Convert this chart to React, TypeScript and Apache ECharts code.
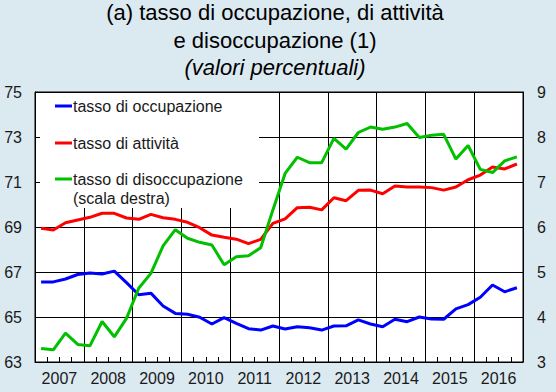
import React, { useEffect, useRef } from "react";
import * as echarts from "echarts";

const years = ["2007", "2008", "2009", "2010", "2011", "2012", "2013", "2014", "2015", "2016"];
const quarterNames = ["T1", "T2", "T3", "T4"];
const quarters: string[] = [];
years.forEach((y) => quarterNames.forEach((q) => quarters.push(y + " " + q)));

const occupazione = [
  66.56, 66.56, 66.69, 66.89, 66.96, 66.91, 67.04, 66.53,
  65.99, 66.06, 65.49, 65.16, 65.12, 64.99, 64.69, 64.97,
  64.72, 64.48, 64.42, 64.6, 64.47, 64.57, 64.52, 64.42,
  64.6, 64.61, 64.87, 64.69, 64.57, 64.9, 64.79, 65.0,
  64.91, 64.9, 65.36, 65.55, 65.88, 66.42, 66.12, 66.3,
];
const attivita = [
  68.94, 68.87, 69.19, 69.31, 69.43, 69.61, 69.61, 69.4,
  69.34, 69.56, 69.41, 69.34, 69.21, 68.97, 68.64, 68.54,
  68.46, 68.26, 68.45, 69.16, 69.36, 69.86, 69.88, 69.76,
  70.3, 70.17, 70.63, 70.64, 70.48, 70.82, 70.78, 70.78,
  70.75, 70.64, 70.78, 71.1, 71.31, 71.67, 71.58, 71.8,
];
const disoccupazione = [
  3.3, 3.27, 3.64, 3.39, 3.36, 3.9, 3.56, 3.97,
  4.64, 4.97, 5.58, 5.94, 5.75, 5.66, 5.6, 5.16,
  5.34, 5.36, 5.54, 6.38, 7.19, 7.55, 7.43, 7.43,
  7.97, 7.73, 8.1, 8.22, 8.17, 8.22, 8.3, 7.99,
  8.04, 8.06, 7.51, 7.81, 7.28, 7.21, 7.47, 7.56,
];

const seriesNames = ["tasso di occupazione", "tasso di attività", "tasso di disoccupazione"];
const seriesColors = ["#0000ff", "#ff0000", "#00c000"];
const titleLines = ["(a) tasso di occupazione, di attività", "e disoccupazione (1)", "(valori percentuali)"];
const legendNote = "(scala destra)";

const FONT = "'Liberation Sans', Arial, Helvetica, sans-serif";
const TEXT = "#1a1a1a";

export default function App() {
  const ref = useRef<HTMLDivElement>(null);
  useEffect(() => {
    if (!ref.current) return;
    const chart = echarts.init(ref.current, null, { renderer: "svg" });
    const legendY = [106, 143, 179];
    const option: any = {
      animation: false,
      backgroundColor: "#dbe9f1",
      textStyle: { fontFamily: FONT },
      grid: {
        left: 35,
        top: 92,
        width: 488,
        height: 270,
        show: true,
        backgroundColor: "#ffffff",
        borderColor: "#000",
        borderWidth: 1,
      },
      xAxis: [
        {
          type: "category",
          data: quarters,
          boundaryGap: true,
          position: "bottom",
          axisLine: { show: true, lineStyle: { color: "#000", width: 1 } },
          axisTick: { show: true, inside: true, length: 5, interval: 0, lineStyle: { color: "#000" } },
          axisLabel: { show: false },
          splitLine: { show: false },
        },
        {
          type: "category",
          data: years,
          boundaryGap: true,
          position: "bottom",
          axisLine: { show: false },
          axisTick: { show: false },
          axisLabel: { show: true, interval: 0, fontSize: 16, color: TEXT, margin: 8, fontFamily: FONT },
          splitLine: { show: true, interval: 0, lineStyle: { color: "#000", width: 1 } },
        },
      ],
      yAxis: [
        {
          type: "value",
          min: 63,
          max: 75,
          interval: 2,
          position: "left",
          axisLine: { show: true, lineStyle: { color: "#000" } },
          axisTick: { show: false },
          axisLabel: { fontSize: 16, color: TEXT, margin: 13, fontFamily: FONT },
          splitLine: { show: true, lineStyle: { color: "#000", width: 1 } },
        },
        {
          type: "value",
          min: 3,
          max: 9,
          interval: 1,
          position: "right",
          axisLine: { show: true, lineStyle: { color: "#000" } },
          axisTick: { show: false },
          axisLabel: { fontSize: 16, color: TEXT, margin: 14, fontFamily: FONT },
          splitLine: { show: false },
        },
      ],
      series: [
        {
          name: seriesNames[0],
          type: "line",
          xAxisIndex: 0,
          yAxisIndex: 0,
          data: occupazione,
          showSymbol: false,
          lineStyle: { color: seriesColors[0], width: 3 },
          itemStyle: { color: seriesColors[0] },
          z: 3,
        },
        {
          name: seriesNames[1],
          type: "line",
          xAxisIndex: 0,
          yAxisIndex: 0,
          data: attivita,
          showSymbol: false,
          lineStyle: { color: seriesColors[1], width: 3 },
          itemStyle: { color: seriesColors[1] },
          z: 3,
        },
        {
          name: seriesNames[2],
          type: "line",
          xAxisIndex: 0,
          yAxisIndex: 1,
          data: disoccupazione,
          showSymbol: false,
          lineStyle: { color: seriesColors[2], width: 3 },
          itemStyle: { color: seriesColors[2] },
          z: 3,
        },
      ],
      graphic: [
        ...titleLines.map((t, i) => ({
          type: "text",
          x: 275,
          y: [12, 40, 67][i],
          style: {
            text: t,
            fill: "#000",
            font: (i === 2 ? "italic " : "") + "22px " + FONT,
            align: "center",
            verticalAlign: "middle",
          },
        })),
        {
          type: "rect",
          z: 1,
          shape: { x: 40, y: 93, width: 219, height: 115 },
          style: { fill: "#ffffff" },
        },
        ...seriesNames.map((n, i) => ({
          type: "line",
          z: 5,
          shape: { x1: 55, y1: legendY[i], x2: 72, y2: legendY[i] },
          style: { stroke: seriesColors[i], lineWidth: 3 },
        })),
        ...seriesNames.map((n, i) => ({
          type: "text",
          z: 5,
          x: 73,
          y: legendY[i],
          style: { text: n, fill: TEXT, font: "16px " + FONT, align: "left", verticalAlign: "middle" },
        })),
        {
          type: "text",
          z: 5,
          x: 73,
          y: 198,
          style: { text: legendNote, fill: TEXT, font: "16px " + FONT, align: "left", verticalAlign: "middle" },
        },
      ],
    };
    chart.setOption(option);
    return () => chart.dispose();
  }, []);
  return (
    <div
      ref={ref}
      style={{ position: "fixed", left: 0, top: 0, width: 556, height: 392, background: "#dbe9f1" }}
    />
  );
}
